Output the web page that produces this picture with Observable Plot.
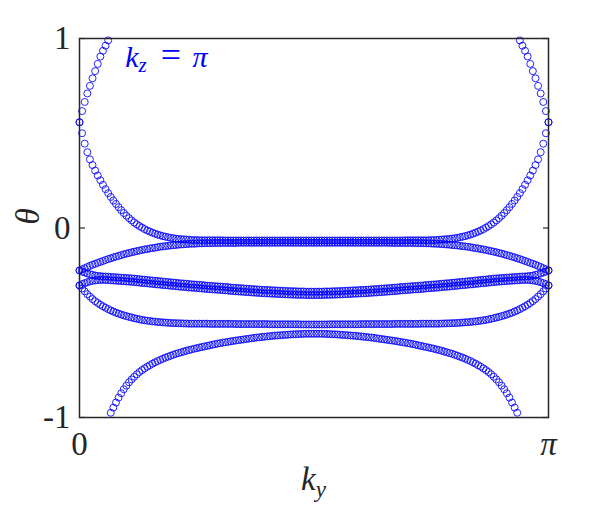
<!DOCTYPE html>
<html><head><meta charset="utf-8">
<script src="https://cdn.jsdelivr.net/npm/d3@7"></script>
<script src="https://cdn.jsdelivr.net/npm/@observablehq/plot@0.6"></script>
<style>body{margin:0;background:#fff}</style>
</head><body><div id="chart"></div>
<script>
// ky sampled at 181 points (index 0..180 spans ky = 0..π)
const kyTickPositions = [0, 180];
const kyTickLabels = ["0", "π"];
const thetaTicks = [-1, 0, 1];
const thetaTickLabels = ["-1", "0", "1"];

const bandA = [
0.558,0.617,0.665,0.71,0.75,0.79,0.828,0.866,0.905,0.935,
0.962,0.99,-0.975,-0.948,-0.921,-0.895,-0.872,-0.851,-0.832,-0.814,
-0.799,-0.785,-0.772,-0.76,-0.75,-0.741,-0.732,-0.724,-0.716,-0.709,
-0.702,-0.696,-0.69,-0.684,-0.679,-0.674,-0.669,-0.664,-0.66,-0.656,
-0.652,-0.648,-0.644,-0.641,-0.637,-0.634,-0.631,-0.628,-0.625,-0.622,
-0.619,-0.616,-0.613,-0.61,-0.608,-0.605,-0.603,-0.601,-0.598,-0.596,
-0.594,-0.592,-0.59,-0.588,-0.586,-0.584,-0.582,-0.58,-0.578,-0.577,
-0.575,-0.574,-0.572,-0.571,-0.569,-0.568,-0.567,-0.566,-0.565,-0.564,
-0.563,-0.562,-0.561,-0.561,-0.56,-0.559,-0.559,-0.558,-0.558,-0.558,
-0.558,-0.558,-0.558,-0.558,-0.559,-0.559,-0.56,-0.561,-0.561,-0.562,
-0.563,-0.564,-0.565,-0.566,-0.567,-0.568,-0.569,-0.571,-0.572,-0.574,
-0.575,-0.577,-0.578,-0.58,-0.582,-0.584,-0.586,-0.588,-0.59,-0.592,
-0.594,-0.596,-0.598,-0.601,-0.603,-0.605,-0.608,-0.61,-0.613,-0.616,
-0.619,-0.622,-0.625,-0.628,-0.631,-0.634,-0.637,-0.641,-0.644,-0.648,
-0.652,-0.656,-0.66,-0.664,-0.669,-0.674,-0.679,-0.684,-0.69,-0.696,
-0.702,-0.709,-0.716,-0.724,-0.732,-0.741,-0.75,-0.76,-0.772,-0.785,
-0.799,-0.814,-0.832,-0.851,-0.872,-0.895,-0.921,-0.948,-0.975,0.99,
0.962,0.935,0.905,0.866,0.828,0.79,0.75,0.71,0.665,0.617,
0.558];

const bandB = [
0.558,0.5,0.445,0.4,0.362,0.332,0.303,0.277,0.252,0.228,
0.205,0.184,0.164,0.145,0.127,0.11,0.094,0.079,0.065,0.052,
0.04,0.029,0.019,0.01,0.002,-0.006,-0.013,-0.019,-0.025,-0.03,
-0.035,-0.039,-0.043,-0.046,-0.049,-0.052,-0.054,-0.056,-0.058,-0.059,
-0.06,-0.061,-0.062,-0.063,-0.064,-0.064,-0.065,-0.065,-0.065,-0.065,
-0.065,-0.065,-0.065,-0.065,-0.065,-0.065,-0.066,-0.066,-0.066,-0.066,
-0.066,-0.066,-0.066,-0.066,-0.066,-0.066,-0.066,-0.066,-0.066,-0.066,
-0.066,-0.066,-0.066,-0.066,-0.066,-0.066,-0.066,-0.066,-0.066,-0.066,
-0.066,-0.066,-0.066,-0.066,-0.066,-0.066,-0.066,-0.066,-0.066,-0.066,
-0.066,-0.066,-0.066,-0.066,-0.066,-0.066,-0.066,-0.066,-0.066,-0.066,
-0.066,-0.066,-0.066,-0.066,-0.066,-0.066,-0.066,-0.066,-0.066,-0.066,
-0.066,-0.066,-0.066,-0.066,-0.066,-0.066,-0.066,-0.066,-0.066,-0.066,
-0.066,-0.066,-0.066,-0.066,-0.066,-0.065,-0.065,-0.065,-0.065,-0.065,
-0.065,-0.065,-0.065,-0.065,-0.065,-0.064,-0.064,-0.063,-0.062,-0.061,
-0.06,-0.059,-0.058,-0.056,-0.054,-0.052,-0.049,-0.046,-0.043,-0.039,
-0.035,-0.03,-0.025,-0.019,-0.013,-0.006,0.002,0.01,0.019,0.029,
0.04,0.052,0.065,0.079,0.094,0.11,0.127,0.145,0.164,0.184,
0.205,0.228,0.252,0.277,0.303,0.332,0.362,0.4,0.445,0.5,
0.558];

const bandC = [
-0.224,-0.218,-0.212,-0.206,-0.2,-0.194,-0.189,-0.184,-0.179,-0.174,
-0.169,-0.164,-0.16,-0.155,-0.151,-0.147,-0.143,-0.139,-0.135,-0.132,
-0.128,-0.125,-0.122,-0.119,-0.116,-0.113,-0.111,-0.108,-0.106,-0.104,
-0.101,-0.099,-0.097,-0.096,-0.094,-0.092,-0.091,-0.09,-0.088,-0.087,
-0.086,-0.085,-0.084,-0.083,-0.083,-0.082,-0.081,-0.081,-0.08,-0.08,
-0.08,-0.079,-0.079,-0.079,-0.079,-0.079,-0.079,-0.079,-0.079,-0.079,
-0.079,-0.078,-0.078,-0.078,-0.078,-0.078,-0.078,-0.078,-0.078,-0.078,
-0.078,-0.078,-0.078,-0.078,-0.078,-0.078,-0.078,-0.078,-0.078,-0.078,
-0.078,-0.078,-0.078,-0.078,-0.078,-0.078,-0.078,-0.078,-0.078,-0.078,
-0.078,-0.078,-0.078,-0.078,-0.078,-0.078,-0.078,-0.078,-0.078,-0.078,
-0.078,-0.078,-0.078,-0.078,-0.078,-0.078,-0.078,-0.078,-0.078,-0.078,
-0.078,-0.078,-0.078,-0.078,-0.078,-0.078,-0.078,-0.078,-0.078,-0.078,
-0.079,-0.079,-0.079,-0.079,-0.079,-0.079,-0.079,-0.079,-0.079,-0.079,
-0.08,-0.08,-0.08,-0.081,-0.081,-0.082,-0.083,-0.083,-0.084,-0.085,
-0.086,-0.087,-0.088,-0.09,-0.091,-0.092,-0.094,-0.096,-0.097,-0.099,
-0.101,-0.104,-0.106,-0.108,-0.111,-0.113,-0.116,-0.119,-0.122,-0.125,
-0.128,-0.132,-0.135,-0.139,-0.143,-0.147,-0.151,-0.155,-0.16,-0.164,
-0.169,-0.174,-0.179,-0.184,-0.189,-0.194,-0.2,-0.206,-0.212,-0.218,
-0.224];

const bandD = [
-0.224,-0.23,-0.235,-0.24,-0.244,-0.247,-0.251,-0.253,-0.254,-0.256,
-0.256,-0.257,-0.258,-0.259,-0.26,-0.261,-0.262,-0.263,-0.264,-0.265,
-0.266,-0.267,-0.269,-0.27,-0.272,-0.273,-0.274,-0.276,-0.277,-0.279,
-0.28,-0.281,-0.283,-0.284,-0.285,-0.287,-0.288,-0.289,-0.291,-0.292,
-0.293,-0.294,-0.296,-0.297,-0.298,-0.299,-0.3,-0.301,-0.303,-0.304,
-0.305,-0.306,-0.307,-0.308,-0.309,-0.31,-0.311,-0.312,-0.314,-0.315,
-0.316,-0.317,-0.318,-0.319,-0.32,-0.321,-0.322,-0.323,-0.324,-0.325,
-0.326,-0.327,-0.327,-0.328,-0.329,-0.329,-0.33,-0.331,-0.331,-0.332,
-0.333,-0.333,-0.334,-0.334,-0.335,-0.335,-0.335,-0.336,-0.336,-0.336,
-0.336,-0.336,-0.336,-0.336,-0.335,-0.335,-0.335,-0.334,-0.334,-0.333,
-0.333,-0.332,-0.331,-0.331,-0.33,-0.329,-0.329,-0.328,-0.327,-0.327,
-0.326,-0.325,-0.324,-0.323,-0.322,-0.321,-0.32,-0.319,-0.318,-0.317,
-0.316,-0.315,-0.314,-0.312,-0.311,-0.31,-0.309,-0.308,-0.307,-0.306,
-0.305,-0.304,-0.303,-0.301,-0.3,-0.299,-0.298,-0.297,-0.296,-0.294,
-0.293,-0.292,-0.291,-0.289,-0.288,-0.287,-0.285,-0.284,-0.283,-0.281,
-0.28,-0.279,-0.277,-0.276,-0.274,-0.273,-0.272,-0.27,-0.269,-0.267,
-0.266,-0.265,-0.264,-0.263,-0.262,-0.261,-0.26,-0.259,-0.258,-0.257,
-0.256,-0.256,-0.254,-0.253,-0.251,-0.247,-0.244,-0.24,-0.235,-0.23,
-0.224];

const bandE = [
-0.303,-0.296,-0.291,-0.286,-0.282,-0.279,-0.277,-0.275,-0.274,-0.274,
-0.274,-0.275,-0.276,-0.277,-0.278,-0.279,-0.28,-0.281,-0.282,-0.283,
-0.284,-0.285,-0.287,-0.288,-0.29,-0.291,-0.292,-0.294,-0.295,-0.297,
-0.298,-0.299,-0.301,-0.302,-0.303,-0.305,-0.306,-0.307,-0.309,-0.31,
-0.311,-0.312,-0.314,-0.315,-0.316,-0.317,-0.318,-0.319,-0.321,-0.322,
-0.323,-0.324,-0.325,-0.326,-0.327,-0.328,-0.329,-0.33,-0.332,-0.333,
-0.334,-0.335,-0.336,-0.337,-0.338,-0.339,-0.34,-0.341,-0.342,-0.343,
-0.344,-0.345,-0.345,-0.346,-0.347,-0.347,-0.348,-0.349,-0.349,-0.35,
-0.351,-0.351,-0.352,-0.352,-0.353,-0.353,-0.353,-0.354,-0.354,-0.354,
-0.354,-0.354,-0.354,-0.354,-0.353,-0.353,-0.353,-0.352,-0.352,-0.351,
-0.351,-0.35,-0.349,-0.349,-0.348,-0.347,-0.347,-0.346,-0.345,-0.345,
-0.344,-0.343,-0.342,-0.341,-0.34,-0.339,-0.338,-0.337,-0.336,-0.335,
-0.334,-0.333,-0.332,-0.33,-0.329,-0.328,-0.327,-0.326,-0.325,-0.324,
-0.323,-0.322,-0.321,-0.319,-0.318,-0.317,-0.316,-0.315,-0.314,-0.312,
-0.311,-0.31,-0.309,-0.307,-0.306,-0.305,-0.303,-0.302,-0.301,-0.299,
-0.298,-0.297,-0.295,-0.294,-0.292,-0.291,-0.29,-0.288,-0.287,-0.285,
-0.284,-0.283,-0.282,-0.281,-0.28,-0.279,-0.278,-0.277,-0.276,-0.275,
-0.274,-0.274,-0.274,-0.275,-0.277,-0.279,-0.282,-0.286,-0.291,-0.296,
-0.303];

const bandF = [
-0.303,-0.319,-0.334,-0.349,-0.362,-0.375,-0.386,-0.396,-0.405,-0.413,
-0.421,-0.428,-0.435,-0.441,-0.447,-0.452,-0.457,-0.461,-0.465,-0.469,
-0.472,-0.476,-0.479,-0.482,-0.485,-0.487,-0.489,-0.491,-0.493,-0.494,
-0.496,-0.497,-0.498,-0.499,-0.5,-0.501,-0.502,-0.502,-0.503,-0.503,
-0.504,-0.504,-0.505,-0.505,-0.505,-0.505,-0.505,-0.505,-0.505,-0.505,
-0.506,-0.506,-0.506,-0.506,-0.506,-0.506,-0.506,-0.506,-0.506,-0.506,
-0.507,-0.507,-0.507,-0.507,-0.507,-0.507,-0.507,-0.507,-0.507,-0.507,
-0.507,-0.507,-0.507,-0.508,-0.508,-0.508,-0.508,-0.508,-0.508,-0.508,
-0.508,-0.508,-0.508,-0.508,-0.508,-0.509,-0.509,-0.509,-0.509,-0.509,
-0.509,-0.509,-0.509,-0.509,-0.509,-0.509,-0.508,-0.508,-0.508,-0.508,
-0.508,-0.508,-0.508,-0.508,-0.508,-0.508,-0.508,-0.508,-0.507,-0.507,
-0.507,-0.507,-0.507,-0.507,-0.507,-0.507,-0.507,-0.507,-0.507,-0.507,
-0.507,-0.506,-0.506,-0.506,-0.506,-0.506,-0.506,-0.506,-0.506,-0.506,
-0.506,-0.505,-0.505,-0.505,-0.505,-0.505,-0.505,-0.505,-0.505,-0.504,
-0.504,-0.503,-0.503,-0.502,-0.502,-0.501,-0.5,-0.499,-0.498,-0.497,
-0.496,-0.494,-0.493,-0.491,-0.489,-0.487,-0.485,-0.482,-0.479,-0.476,
-0.472,-0.469,-0.465,-0.461,-0.457,-0.452,-0.447,-0.441,-0.435,-0.428,
-0.421,-0.413,-0.405,-0.396,-0.386,-0.375,-0.362,-0.349,-0.334,-0.319,
-0.303];

const bands = [bandA, bandB, bandC, bandD, bandE, bandF];
const points = bands.flatMap((b, bi) => b.map((theta, i) => ({i, theta, band: bi})));

const axisColor = "#262626";
const font = "'Liberation Serif', 'Times New Roman', serif";

const svg = Plot.plot({
  width: 606,
  height: 506,
  marginLeft: 79,
  marginRight: 58,
  marginTop: 38,
  marginBottom: 89,
  style: {background: "white", color: axisColor},
  x: {domain: [0, 180]},
  y: {domain: [-1, 1]},
  marks: [
    Plot.dot(points, {x: "i", y: "theta", r: 3.5, stroke: "#0000ff", strokeWidth: 0.85, fill: "none"}),
    Plot.frame({stroke: axisColor, strokeWidth: 1.5}),
    Plot.axisY(thetaTicks, {anchor: "left", tickSize: 6, insetLeft: 6, fill: "none", label: null, strokeWidth: 1.2}),
    Plot.axisY(thetaTicks, {anchor: "right", tickSize: 6, insetRight: 6, fill: "none", label: null, strokeWidth: 1.2}),
    Plot.axisY(thetaTicks, {anchor: "left", tickSize: 0, tickPadding: 9, fontSize: 33, label: null,
      tickFormat: d => thetaTickLabels[thetaTicks.indexOf(d)]}),
    Plot.axisX(kyTickPositions, {anchor: "bottom", tickSize: 0, tickPadding: 14, fontSize: 33, label: null,
      tickFormat: d => kyTickLabels[kyTickPositions.indexOf(d)]})
  ]
});

const s = d3.select(svg);
s.style("font-family", font);

const xs = svg.scale("x"), ys = svg.scale("y");
const xMid = (xs.apply(0) + xs.apply(180)) / 2;
const yMid = (ys.apply(-1) + ys.apply(1)) / 2;

// x label: k_y
const kl = s.append("text").attr("x", xMid).attr("y", 490).attr("text-anchor", "middle")
  .attr("font-size", 33).style("font-style", "italic").attr("fill", axisColor);
kl.append("tspan").text("k");
kl.append("tspan").attr("font-size", 23).attr("dy", 7).text("y");

// y label: θ
s.append("text").attr("transform", `translate(39,${yMid - 11}) rotate(-90)`).attr("text-anchor", "middle")
  .attr("font-size", 33).style("font-style", "italic").attr("fill", axisColor).text("θ");

// annotation k_z = π
const an = s.append("text").attr("x", 136).attr("y", 67)
  .attr("font-size", 30).style("font-style", "italic").attr("fill", "#0000ff");
an.append("tspan").text("k");
an.append("tspan").attr("font-size", 21).attr("dy", 5).text("z");
an.append("tspan").attr("x", 171).attr("dy", -5).attr("font-size", 36).style("font-style", "normal").text("=");
an.append("tspan").attr("x", 200).text("π");

s.selectAll("text").style("font-family", font);
s.selectAll("text").filter(function() { return this.textContent === "π"; }).style("font-style", "italic");

document.getElementById("chart").appendChild(svg);
</script>
</body></html>
